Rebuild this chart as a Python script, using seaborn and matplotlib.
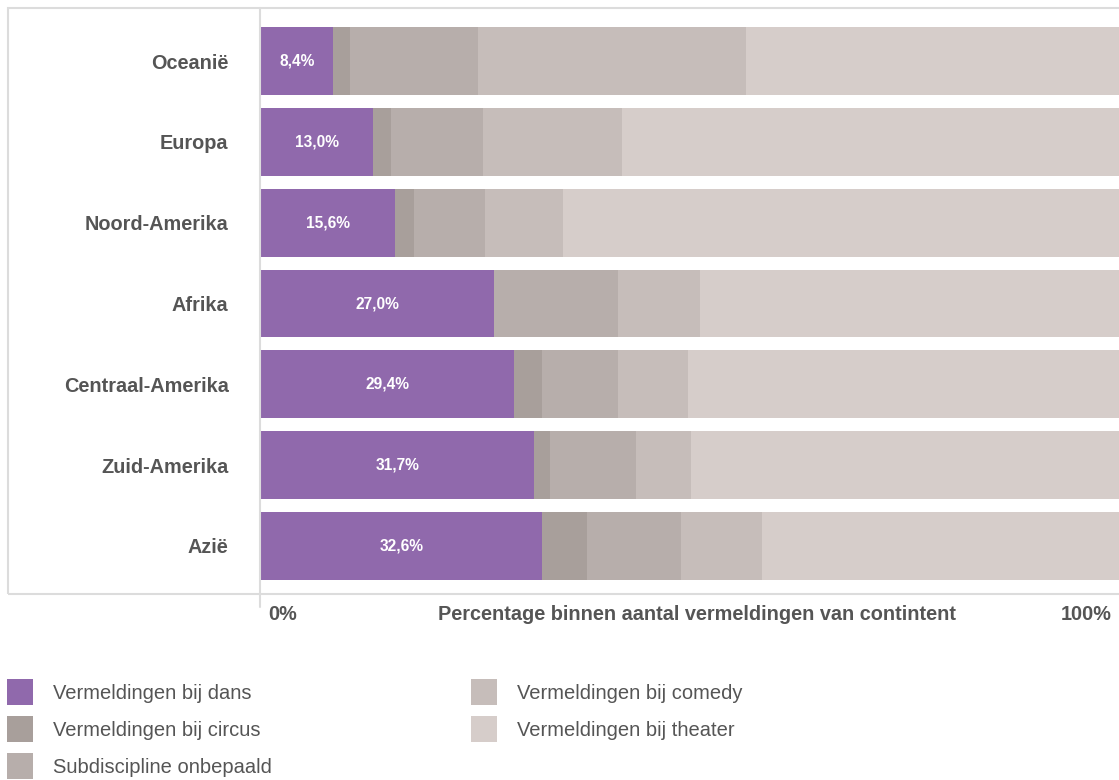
import matplotlib.pyplot as plt
from matplotlib.patches import Rectangle, Patch
from matplotlib.lines import Line2D
import pandas as pd
import seaborn as sns

# Data (percentages per continent)
continents = ['Oceanië', 'Europa', 'Noord-Amerika', 'Afrika',
              'Centraal-Amerika', 'Zuid-Amerika', 'Azië']
dans = [8.4, 13.0, 15.6, 27.0, 29.4, 31.7, 32.6]
circus = [2.0, 2.1, 2.2, 0.0, 3.2, 1.8, 5.2]
onbepaald = [14.8, 10.7, 8.2, 14.4, 8.8, 10.0, 10.9]
comedy = [31.0, 16.1, 9.0, 9.5, 8.1, 6.4, 9.4]
theater = [43.8, 58.1, 65.0, 49.1, 50.5, 50.1, 41.9]

series = ['Vermeldingen bij dans', 'Vermeldingen bij circus', 'Subdiscipline onbepaald',
          'Vermeldingen bij comedy', 'Vermeldingen bij theater']
colors = ['#9069ac', '#a89f9b', '#b7aeab', '#c6bdba', '#d6cdca']

df = pd.DataFrame({'continent': continents, series[0]: dans, series[1]: circus,
                   series[2]: onbepaald, series[3]: comedy, series[4]: theater})
cum = df[series].cumsum(axis=1)
cum['continent'] = continents

W, H = 1119, 780
sns.set_style('white')
plt.rcParams['font.family'] = ['Liberation Sans', 'DejaVu Sans']
txt = '#555555'

fig = plt.figure(figsize=(W / 100, H / 100), dpi=100)
ax = fig.add_axes([260.5 / W, (H - 594) / H, 863.6 / W, 586 / H])

# stacked bars: draw the cumulative totals from the back to the front
for name, col in reversed(list(zip(series, colors))):
    sns.barplot(data=cum, x=name, y='continent', order=continents, color=col,
                saturation=1, width=0.84, linewidth=0, edgecolor='none', ax=ax)

for i, v in enumerate(dans):
    ax.text(v / 2, i, f'{v:.1f}%'.replace('.', ','), ha='center', va='center',
            color='white', fontsize=11.2, fontweight='bold')

ax.set_xlim(0, 100)
ax.set_ylim(6.594, -0.656)
for s in ax.spines.values():
    s.set_visible(False)
ax.set_xticks([])
ax.set_xlabel('')
ax.set_ylabel('')
ax.set_yticks(range(len(continents)))
ax.set_yticklabels(continents, fontsize=14.3, fontweight='bold', color=txt)
ax.tick_params(axis='y', length=0, pad=23)

# frame and axis line
fig.add_artist(Rectangle((8 / W, (H - 594) / H), 1.2, 586 / H, transform=fig.transFigure,
                         fill=False, ec='#dcdcdc', lw=1.5))
fig.add_artist(Line2D([260 / W, 260 / W], [1 - 8 / H, 1 - 607 / H],
                      transform=fig.transFigure, color='#dcdcdc', lw=1.5))

yb = 1 - 615 / H
fig.text(268 / W, yb, '0%', ha='left', va='center', fontsize=14.3, fontweight='bold', color=txt)
fig.text(697 / W, yb, 'Percentage binnen aantal vermeldingen van contintent', ha='center',
         va='center', fontsize=14.3, fontweight='bold', color=txt)
fig.text(1112 / W, yb, '100%', ha='right', va='center', fontsize=14.3, fontweight='bold', color=txt)

handles = [Patch(facecolor=c, edgecolor='none') for c in colors]
fig.legend(handles, series, loc='upper left', bbox_to_anchor=(7 / W, 1 - 679 / H),
           ncol=2, frameon=False, fontsize=14.5, labelcolor=txt, borderpad=0,
           borderaxespad=0, handlelength=1.29, handleheight=1.61, handletextpad=0.98,
           labelspacing=0.55, columnspacing=9.9)

fig.savefig('out.png', dpi=100)
